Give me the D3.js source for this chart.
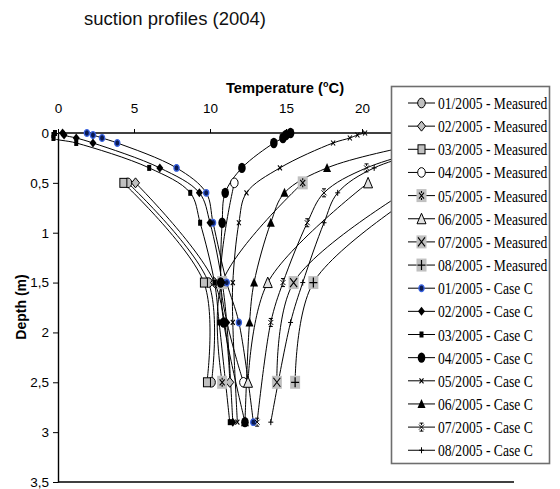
<!DOCTYPE html>
<html>
<head>
<meta charset="utf-8">
<script src="https://cdn.jsdelivr.net/npm/d3@7"></script>
<style>
  body { margin: 0; background: #fff; }
  svg { font-family: "Liberation Sans", Arial, sans-serif; }
</style>
</head>
<body>
<div id="chart-container"></div>
<script>
// Depths (m) of the measured points and of the Case C model nodes
const measDepths = [0.5, 1.5, 2.5];
const caseDepths = [0, 0.02, 0.05, 0.1, 0.35, 0.6, 0.9, 1.5, 1.9, 2.9];

const months = ["01/2005", "02/2005", "03/2005", "04/2005", "05/2005", "06/2005", "07/2005", "08/2005"];

// Measured temperatures (°C) at 0.5 / 1.5 / 2.5 m
const meas01 = [4.6, 9.9, 10.1];
const meas02 = [5.1, 10.3, 11.3];
const meas03 = [4.3, 9.6, 9.8];
const meas04 = [11.6, 10.7, 12.2];
const meas05 = [16.1, 10.8, 10.8];
const meas06 = [20.4, 13.8, 12.5];
const meas07 = [23.8, 15.5, 14.4];
const meas08 = [24.7, 16.8, 15.6];

// Case C simulated temperatures (°C) at caseDepths
const case01 = [1.9, 2.3, 2.9, 3.9, 7.8, 9.75, 10.2, 11.1, 11.9, 12.85];
const case02 = [0.3, 0.4, 1.2, 2.3, 6.7, 9.3, 10.0, 10.8, 11.1, 11.5];
const case03 = [-0.2, -0.3, -0.3, 1.2, 6.0, 8.7, 9.35, 10.3, 10.6, 11.3];
const case04 = [15.3, 15.0, 14.8, 14.2, 12.1, 11.0, 10.8, 10.7, 10.9, 12.3];
const case05 = [20.2, 19.7, 19.2, 18.1, 14.6, 12.4, 11.9, 11.5, 11.5, 11.8];
const case06 = [27.0, 26.5, 25.5, 24.0, 17.7, 14.9, 14.0, 12.9, 12.6, 12.3];
const case07 = [29.0, 28.5, 27.5, 26.0, 20.3, 17.5, 16.4, 14.8, 14.0, 13.1];
const case08 = [29.5, 29.0, 28.0, 26.5, 20.8, 18.4, 17.5, 16.1, 15.3, 14.0];

// tick labels 25 and 30 sit under the legend box, so only these are shown
const xTicks = [0, 5, 10, 15, 20];
const yTicks = [0, 0.5, 1, 1.5, 2, 2.5, 3, 3.5];

const measured = [meas01, meas02, meas03, meas04, meas05, meas06, meas07, meas08];
const caseC = [case01, case02, case03, case04, case05, case06, case07, case08];
const measMarkers = ["circleGray", "diamondGray", "squareGray", "circleWhite", "starBox", "triangleGray", "xBox", "plusBox"];
const caseMarkers = ["dotBlue", "diamondBlack", "squareBlack", "ellipseBlack", "xSmall", "triangleBlack", "starSmall", "plusSmall"];

const series = [];
measured.forEach((vals, i) => series.push({
  name: months[i] + " - Measured", marker: measMarkers[i],
  points: vals.map((t, j) => ({ t: t, d: measDepths[j] }))
}));
caseC.forEach((vals, i) => series.push({
  name: months[i] + " - Case C", marker: caseMarkers[i],
  points: vals.map((t, j) => ({ t: t, d: caseDepths[j] }))
}));

// Chart frame
const margin = { top: 133, right: 46, bottom: 7, left: 58 };
const width = 560 - margin.left - margin.right;
const height = 489 - margin.top - margin.bottom;

const x = d3.scaleLinear().domain([0, 30]).range([0, width]);
const y = d3.scaleLinear().domain([0, 3.5]).range([0, height]);

const root = d3.select("#chart-container")
  .append("svg")
  .attr("width", 560)
  .attr("height", 489);

// caption fragment at the top
root.append("text")
  .attr("x", 84)
  .attr("y", 25)
  .attr("font-size", 18.5)
  .attr("fill", "#111")
  .text("suction profiles (2004)");

const svg = root.append("g")
  .attr("transform", `translate(${margin.left},${margin.top})`);

// axes
const xAxis = svg.append("g")
  .call(d3.axisTop(x).tickValues(xTicks).tickSize(4).tickSizeOuter(0).tickPadding(16));
const yAxis = svg.append("g")
  .call(d3.axisLeft(y).tickValues(yTicks).tickSize(5).tickSizeOuter(0).tickPadding(4)
    .tickFormat(d => String(d).replace(".", ",")));
[xAxis, yAxis].forEach(a => {
  a.selectAll("text").attr("font-size", 13.5).attr("fill", "#000")
    .attr("font-family", "'Liberation Sans', Arial, sans-serif");
  a.select(".domain").attr("stroke", "#000").attr("stroke-width", 1.4);
});
// the top axis line runs the full width (under the legend)
xAxis.select(".domain").attr("d", `M0,0H${width}`);

svg.append("line")
  .attr("x1", 0).attr("x2", width)
  .attr("y1", height).attr("y2", height)
  .attr("stroke", "#000").attr("stroke-width", 1.6);

// axis titles
const xt = root.append("text")
  .attr("transform", "translate(285,93) scale(0.95,1)")
  .attr("text-anchor", "middle")
  .attr("font-size", 15.5)
  .attr("font-weight", "bold");
xt.append("tspan").text("Temperature (");
xt.append("tspan").attr("font-size", 9.5).attr("dy", -6).text("o");
xt.append("tspan").attr("dy", 6).text("C)");

root.append("text")
  .attr("transform", "translate(26,307) rotate(-90)")
  .attr("text-anchor", "middle")
  .attr("font-size", 14)
  .attr("font-weight", "bold")
  .text("Depth (m)");

// lines
const line = d3.line()
  .x(p => x(p.t))
  .y(p => y(p.d))
  .curve(d3.curveCatmullRom.alpha(0.5));

svg.append("g").selectAll("path")
  .data(series)
  .join("path")
  .attr("fill", "none")
  .attr("stroke", "#000")
  .attr("stroke-width", 1)
  .attr("d", s => line(s.points));

// marker drawing
function drawMarker(g, type, cx, cy) {
  const gray = "#c0c0c0";
  const m = g.append("g").attr("transform", `translate(${cx},${cy})`);
  const box = () => m.append("rect").attr("x", -5).attr("y", -6.5).attr("width", 10).attr("height", 13).attr("fill", gray);
  const stroke = (p, w) => m.append("path").attr("d", p).attr("fill", "none").attr("stroke", "#000").attr("stroke-width", w);
  switch (type) {
    case "circleGray":
      m.append("ellipse").attr("rx", 3.8).attr("ry", 4.8).attr("fill", gray).attr("stroke", "#000"); break;
    case "diamondGray":
      m.append("path").attr("d", "M0,-5L4,0L0,5L-4,0Z").attr("fill", gray).attr("stroke", "#000"); break;
    case "squareGray":
      m.append("rect").attr("x", -3.5).attr("y", -4.5).attr("width", 7).attr("height", 9).attr("fill", gray).attr("stroke", "#000"); break;
    case "circleWhite":
      m.append("ellipse").attr("rx", 3.8).attr("ry", 4.8).attr("fill", "#fff").attr("stroke", "#000"); break;
    case "starBox":
      box(); stroke("M-2.5,-3L2.5,3M-2.5,3L2.5,-3M0,-4.5L0,-2.5M0,2.5L0,4.5", 1.1); break;
    case "triangleGray":
      m.append("path").attr("d", "M0,-5.5L4.5,5L-4.5,5Z").attr("fill", "#e0e0e0").attr("stroke", "#000"); break;
    case "xBox":
      box(); stroke("M-3.5,-4.5L3.5,4.5M-3.5,4.5L3.5,-4.5", 1.1); break;
    case "plusBox":
      box(); stroke("M-4,0L4,0M0,-5L0,5", 1.2); break;
    case "dotBlue":
      m.append("ellipse").attr("rx", 2.6).attr("ry", 3.3).attr("fill", "#0a1a50").attr("stroke", "#3a63e0").attr("stroke-width", 1.3); break;
    case "diamondBlack":
      m.append("path").attr("d", "M0,-4.5L3.5,0L0,4.5L-3.5,0Z").attr("fill", "#000"); break;
    case "squareBlack":
      m.append("rect").attr("x", -2).attr("y", -3).attr("width", 4).attr("height", 6).attr("fill", "#000"); break;
    case "ellipseBlack":
      m.append("ellipse").attr("rx", 3.8).attr("ry", 5.2).attr("fill", "#000"); break;
    case "xSmall":
      stroke("M-2,-2.5L2,2.5M-2,2.5L2,-2.5", 1.1); break;
    case "triangleBlack":
      m.append("path").attr("d", "M0,-5L4,4L-4,4Z").attr("fill", "#000"); break;
    case "starSmall":
      stroke("M-2.5,-2.5L2.5,2.5M-2.5,2.5L2.5,-2.5M0,-4L0,-2M0,2L0,4M-2,-4L2,-4M-2,4L2,4", 1); break;
    case "plusSmall":
      stroke("M-2.5,0L2.5,0M0,-3L0,3", 1); break;
  }
}

const markerLayer = svg.append("g");
series.forEach(s => {
  s.points.forEach(p => drawMarker(markerLayer, s.marker, x(p.t), y(p.d)));
});

// legend
const legend = root.append("g");
legend.append("rect")
  .attr("x", 391.5).attr("y", 86.5)
  .attr("width", 158).attr("height", 377)
  .attr("fill", "#fff")
  .attr("stroke", "#6e6e6e")
  .attr("stroke-width", 1.6);

series.forEach((s, i) => {
  const ly = 103 + i * 23.15;
  legend.append("line")
    .attr("x1", 408).attr("x2", 435)
    .attr("y1", ly).attr("y2", ly)
    .attr("stroke", "#000").attr("stroke-width", 1);
  drawMarker(legend, s.marker, 421.5, ly);
  legend.append("text")
    .attr("transform", `translate(438,${ly + 6}) scale(0.8,1)`)
    .attr("font-family", "'Liberation Serif', 'Times New Roman', serif")
    .attr("font-size", 17)
    .attr("fill", "#000")
    .text(s.name);
});
</script>
</body>
</html>
